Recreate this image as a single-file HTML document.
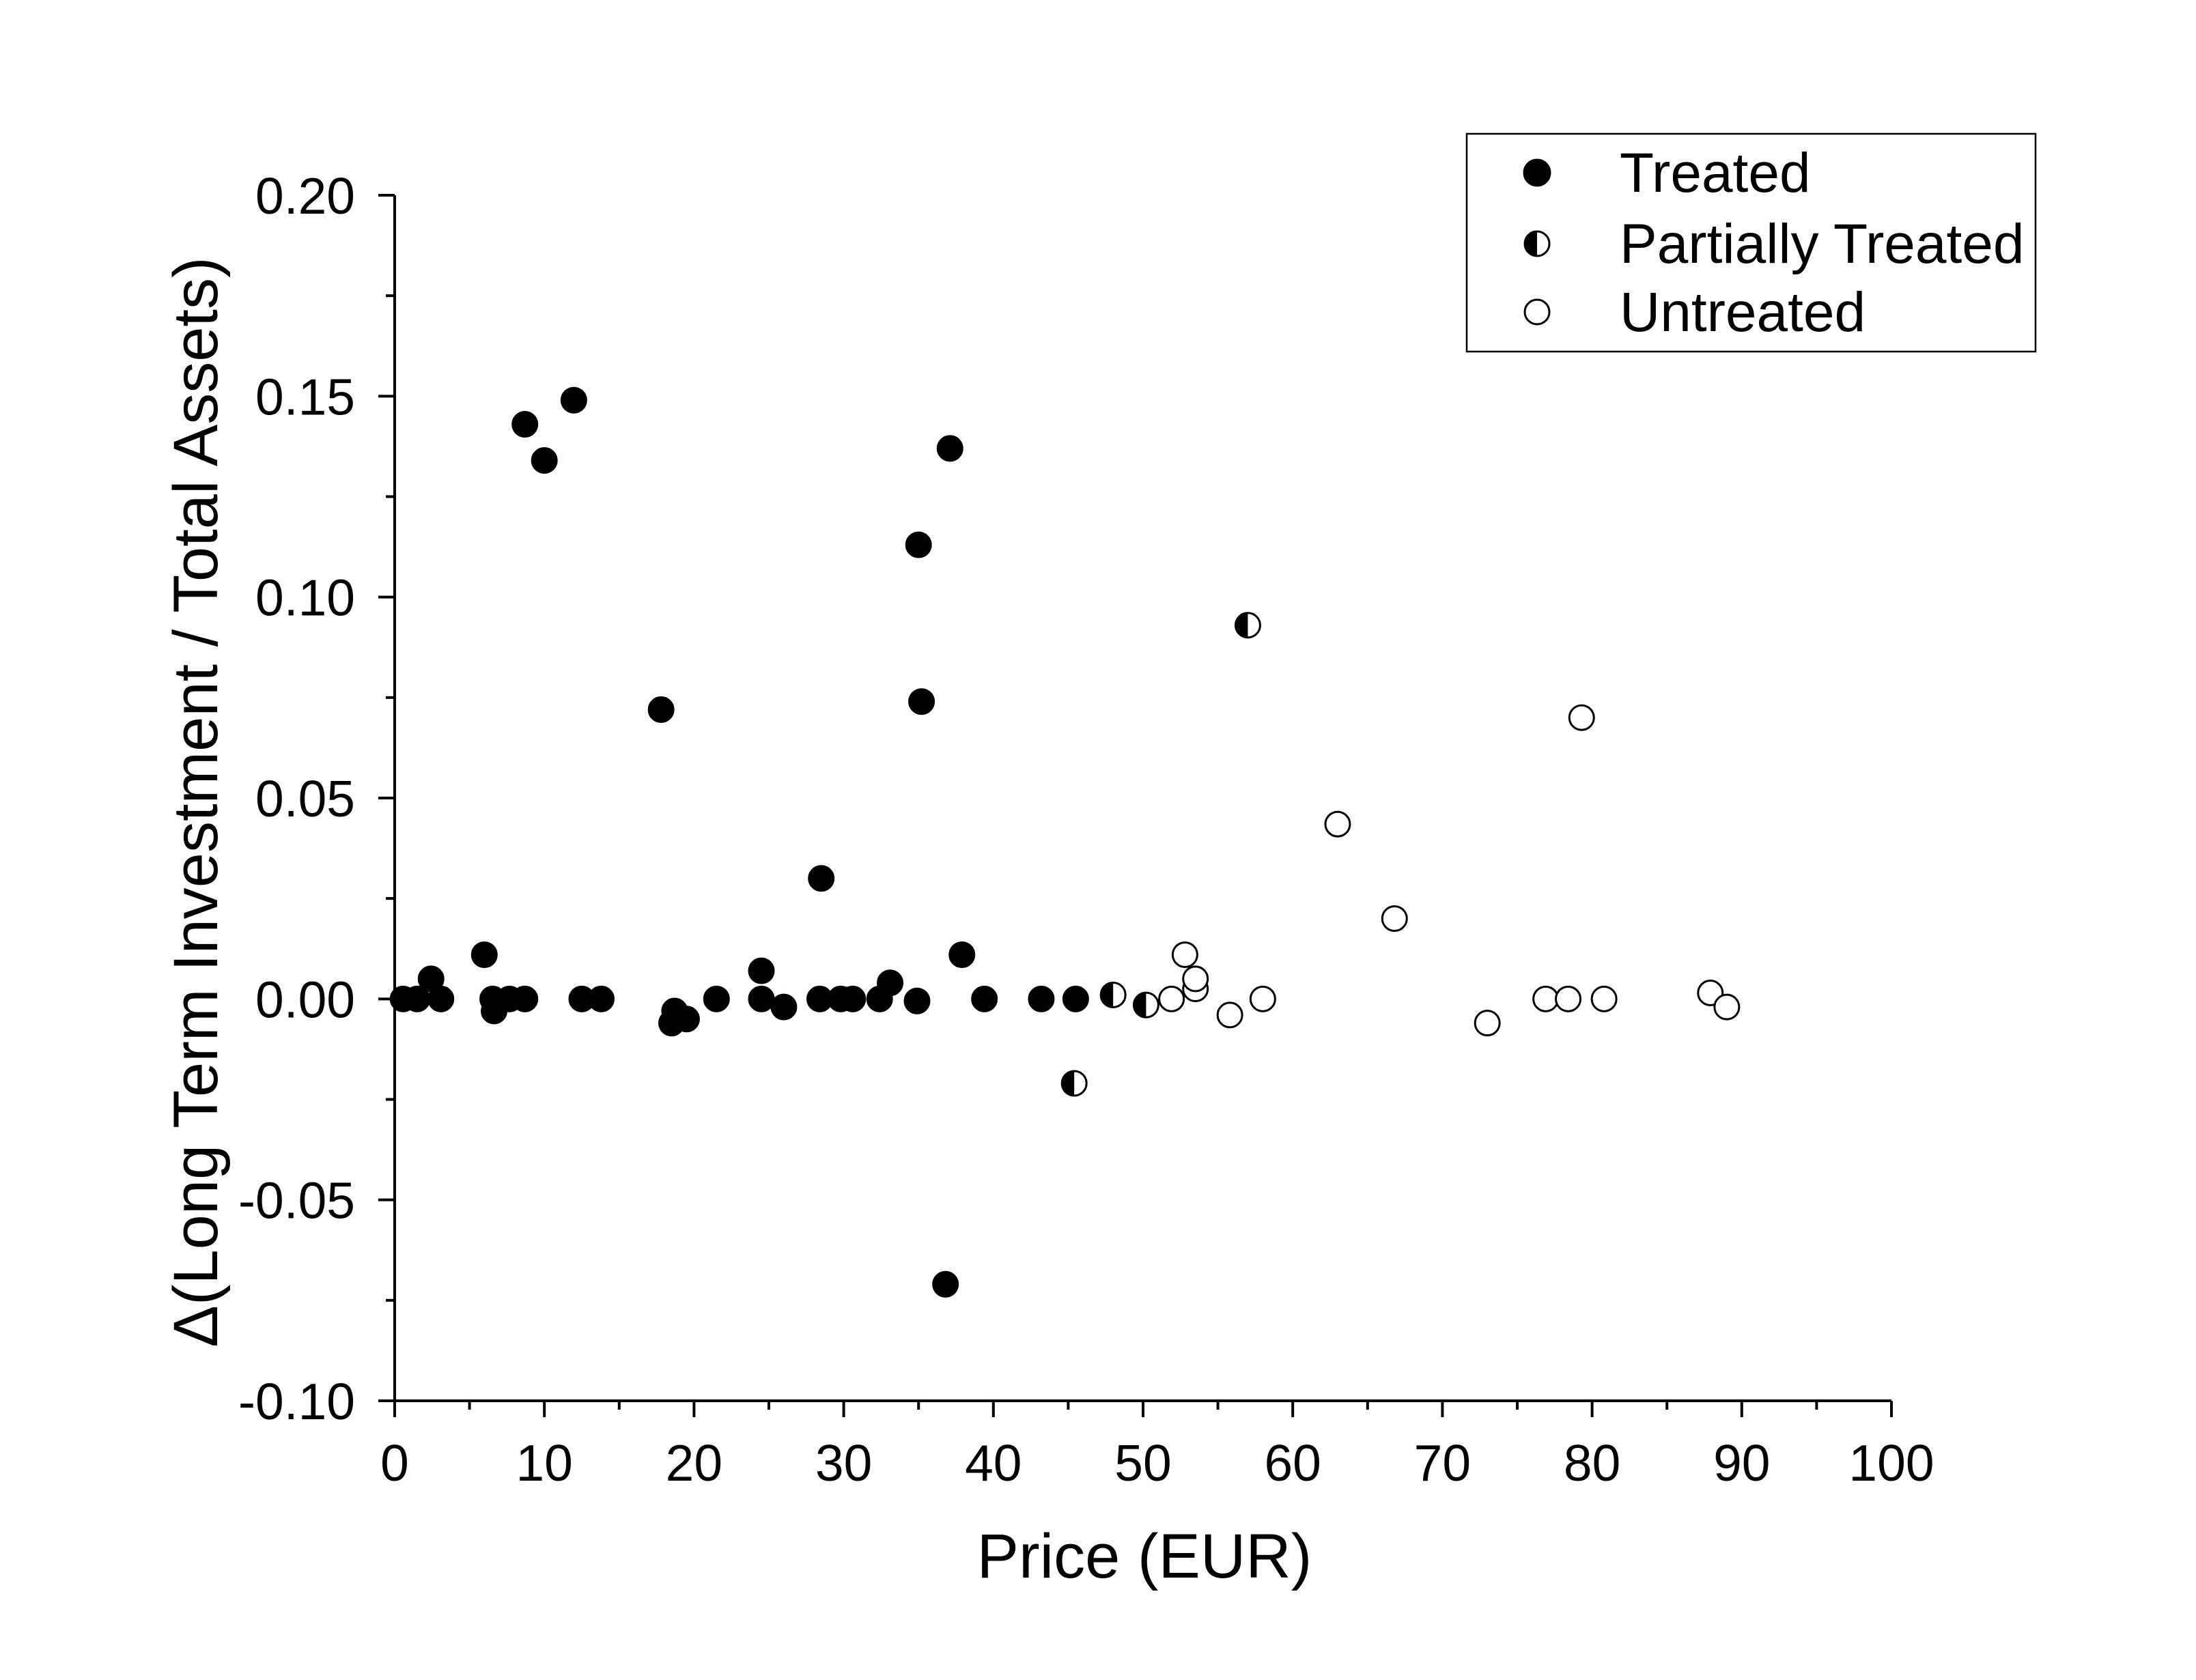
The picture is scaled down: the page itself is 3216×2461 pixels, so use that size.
<!DOCTYPE html>
<html><head><meta charset="utf-8"><style>
html,body{margin:0;padding:0;background:#fff;}
svg{display:block;font-family:"Liberation Sans",Arial,sans-serif;}
</style></head><body>
<svg id="chart" width="3216" height="2461" viewBox="0 0 3216 2461" xmlns="http://www.w3.org/2000/svg">
<rect width="3216" height="2461" fill="#fff"/>
<g id="axes"></g>
<g id="points"></g>
<text x="1676" y="2311" font-size="92" text-anchor="middle">Price (EUR)</text>
<text transform="translate(318,1175) rotate(-90)" font-size="92" text-anchor="middle">Δ(Long Term Investment / Total Assets)</text>
<g>
<rect x="2148" y="196" width="833" height="319" fill="#fff" stroke="#000" stroke-width="2.5"/>
<g>
<circle cx="2251" cy="253" r="19" fill="#000" stroke="#000" stroke-width="3"/>
<text x="2372" y="281" font-size="82">Treated</text></g>
<g>
<circle cx="2251" cy="357" r="18" fill="#fff" stroke="#000" stroke-width="3"/>
<path d="M2251,339 A18,18 0 0,0 2251,375 Z" fill="#000"/>
<text x="2372" y="385" font-size="82">Partially Treated</text></g>
<g>
<circle cx="2251" cy="457" r="18" fill="#fff" stroke="#000" stroke-width="3"/>
<text x="2372" y="485" font-size="82">Untreated</text></g>
</g>
</svg>
<script>
const treatedX=[0.56,1.5,2.43,3.09,5.99,6.55,6.64,7.67,8.7,8.7,10.0,11.97,12.5,13.8,17.8,18.5,18.7,19.5,21.5,24.5,24.5,26.0,28.4,28.5,29.8,30.6,32.4,33.1,34.9,35.0,35.2,37.1,36.8,37.9,39.4,43.2,45.5];
const treatedY=[0,0,0.005,0,0.011,0,-0.003,0,0,0.143,0.134,0.149,0,0,0.072,-0.006,-0.003,-0.005,0,0.007,0,-0.002,0,0.030,0,0,0,0.004,-0.0005,0.113,0.074,0.137,-0.071,0.011,0,0,0];
const partialX=[48.0,50.2,45.4,57.0];
const partialY=[0.001,-0.0015,-0.021,0.093];
const untreatedX=[51.9,52.8,53.5,53.5,55.8,58.0,63.0,66.8,73.0,76.9,78.4,80.8,79.3,87.9,89.0];
const untreatedY=[0,0.011,0.0025,0.005,-0.004,0,0.0435,0.020,-0.006,0,0,0,0.070,0.0015,-0.002];
const xTicks=[0,10,20,30,40,50,60,70,80,90,100];
const yTicks=[-0.10,-0.05,0.00,0.05,0.10,0.15,0.20];

const X0=578,X1=2770,Y0=2052,Y1=286;
const NS="http://www.w3.org/2000/svg";
function sx(v){return X0+(v-0)/(100-0)*(X1-X0);}
function sy(v){return Y0-(v-(-0.10))/(0.20-(-0.10))*(Y0-Y1);}
function mk(tag,attrs,parent){const e=document.createElementNS(NS,tag);for(const k in attrs)e.setAttribute(k,attrs[k]);parent.appendChild(e);return e;}
const ax=document.getElementById('axes');
const yl=mk('line',{x1:X0,y1:Y1,x2:X0,y2:Y0,stroke:'#000','stroke-width':4},ax);


const xl=mk('line',{x1:X0-2,y1:Y0,x2:X1,y2:Y0,stroke:'#000','stroke-width':4},ax);


for(let i=0;i<xTicks.length;i++){
  const v=xTicks[i];
  mk('line',{x1:sx(v),y1:Y0,x2:sx(v),y2:Y0+24,stroke:'#000','stroke-width':4},ax);
  if(i<xTicks.length-1){mk('line',{x1:sx(v+5),y1:Y0,x2:sx(v+5),y2:Y0+13,stroke:'#000','stroke-width':4},ax);}
  const t=mk('text',{x:sx(v),y:Y0+117,'font-size':75,'text-anchor':'middle'},ax);
  t.textContent=String(v);
  
  
}
for(let i=0;i<yTicks.length;i++){
  const v=yTicks[i];
  mk('line',{x1:X0-24,y1:sy(v),x2:X0,y2:sy(v),stroke:'#000','stroke-width':4},ax);
  if(i<yTicks.length-1){mk('line',{x1:X0-13,y1:sy(v+0.025),x2:X0,y2:sy(v+0.025),stroke:'#000','stroke-width':4},ax);}
  const t=mk('text',{x:X0-58,y:sy(v)+27,'font-size':75,'text-anchor':'end'},ax);
  t.textContent=v.toFixed(2);
  
  
}
const pg=document.getElementById('points');
const R=18;
for(let i=0;i<treatedX.length;i++){
  const c=mk('circle',{cx:sx(treatedX[i]),cy:sy(treatedY[i]),r:R,fill:'#000',stroke:'#000','stroke-width':3},pg);
  
  
}
for(let i=0;i<untreatedX.length;i++){
  const c=mk('circle',{cx:sx(untreatedX[i]),cy:sy(untreatedY[i]),r:R,fill:'#fff',stroke:'#000','stroke-width':3},pg);
  
  
}
for(let i=0;i<partialX.length;i++){
  const cx=sx(partialX[i]),cy=sy(partialY[i]);
  const g=mk('g',{},pg);
  
  
  mk('circle',{cx:cx,cy:cy,r:R,fill:'#fff',stroke:'#000','stroke-width':3},g);
  mk('path',{d:`M${cx},${cy-R} A${R},${R} 0 0,0 ${cx},${cy+R} Z`,fill:'#000'},g);
}
</script>
</body></html>
